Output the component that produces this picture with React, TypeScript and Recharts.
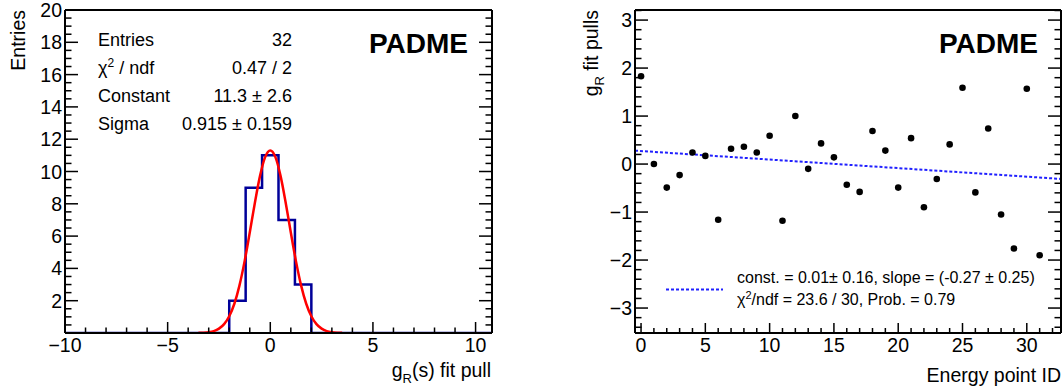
import { ComposedChart, Line, Scatter, XAxis, YAxis } from 'recharts';

const FONT = '"Liberation Sans", Arial, Helvetica, sans-serif';

// ---- left panel: pull histogram + gaussian fit ----
const HIST_EDGES = [-10, -2, -1.2, -0.4, 0.4, 1.2, 2.0, 10.8];
const HIST_COUNTS = [0, 2, 9, 11, 7, 3, 0, 0];

const GAUSS_X = [-3.5, -3.25, -3, -2.75, -2.5, -2.25, -2, -1.75, -1.5, -1.25, -1, -0.75, -0.5, -0.25, 0,
  0.25, 0.5, 0.75, 1, 1.25, 1.5, 1.75, 2, 2.25, 2.5, 2.75, 3, 3.25, 3.5];
const GAUSS_Y = [0.01, 0.02, 0.05, 0.12, 0.27, 0.55, 1.04, 1.81, 2.95, 4.45, 6.22, 8.07, 9.73, 10.89, 11.3,
  10.89, 9.73, 8.07, 6.22, 4.45, 2.95, 1.81, 1.04, 0.55, 0.27, 0.12, 0.05, 0.02, 0.01];

const LEFT_X_LABELS = [-10, -5, 0, 5, 10];
const LEFT_Y_LABELS = [2, 4, 6, 8, 10, 12, 14, 16, 18, 20];

const STATS = [
  ['Entries', '32'],
  ['chi2', '0.47 / 2'],
  ['Constant', '11.3 \u00b1 2.6'],
  ['Sigma', '0.915 \u00b1 0.159'],
];

// ---- right panel: pulls per energy point ----
const PULLS = [1.83, 0.0, -0.49, -0.23, 0.24, 0.17, -1.16, 0.32, 0.36, 0.24, 0.59, -1.18, 1.0, -0.1, 0.43, 0.14,
  -0.43, -0.58, 0.69, 0.28, -0.49, 0.54, -0.9, -0.31, 0.41, 1.59, -0.59, 0.74, -1.05, -1.76, 1.57, -1.9];
const FIT_X = [-0.47, 32.66];
const FIT_Y = [0.28, -0.31];

const RIGHT_X_LABELS = [0, 5, 10, 15, 20, 25, 30];
const RIGHT_Y_LABELS = [-3, -2, -1, 0, 1, 2, 3];

const histData = HIST_EDGES.map((x, i) => ({ x, y: HIST_COUNTS[i] }));
const gaussData = GAUSS_X.map((x, i) => ({ x, y: GAUSS_Y[i] }));
const pullData = PULLS.map((y, i) => ({ x: i, y }));
const fitData = FIT_X.map((x, i) => ({ x, y: FIT_Y[i] }));

function range(from: number, to: number, step: number) {
  const out: number[] = [];
  for (let v = from; v <= to + 1e-9; v += step) out.push(Math.round(v * 1000) / 1000);
  return out;
}

const fmt = (v: number) => (v < 0 ? '\u2212' + Math.abs(v) : String(v));

// ROOT style ticks: drawn inside the frame
function axisTick(side: string, labels: number[], majorStep: number, majorLen: number, minorLen: number) {
  return (props: any) => {
    const { x, y, payload } = props;
    const v = payload.value;
    const r = v / majorStep;
    const major = Math.abs(r - Math.round(r)) < 1e-6;
    const len = major ? majorLen : minorLen;
    const lab = labels.some((l) => Math.abs(l - v) < 1e-6);
    let line;
    if (side === 'bottom') line = <line x1={x} y1={y} x2={x} y2={y - len} stroke="#000" strokeWidth={1.5} />;
    else if (side === 'top') line = <line x1={x} y1={y} x2={x} y2={y + len} stroke="#000" strokeWidth={1.5} />;
    else if (side === 'left') line = <line x1={x} y1={y} x2={x + len} y2={y} stroke="#000" strokeWidth={1.5} />;
    else line = <line x1={x} y1={y} x2={x - len} y2={y} stroke="#000" strokeWidth={1.5} />;
    return (
      <g>
        {line}
        {lab && side === 'bottom' && (
          <text x={x} y={y + 19} textAnchor="middle" fontSize={19.5} fontFamily={FONT} fill="#000">{fmt(v)}</text>
        )}
        {lab && side === 'left' && (
          <text x={x - 3} y={y + 7} textAnchor="end" fontSize={19.5} fontFamily={FONT} fill="#000">{fmt(v)}</text>
        )}
      </g>
    );
  };
}

const axisLine = { stroke: '#000', strokeWidth: 2 };

function LeftPanel() {
  const xd: [number, number] = [-10, 10.8];
  const yd: [number, number] = [0, 20];
  const xt = range(-10, 10, 1);
  const yt = range(0, 20, 0.5);
  return (
    <ComposedChart width={531} height={390} margin={{ top: 9, right: 38, bottom: 56, left: 64 }}>
      <XAxis xAxisId="b" dataKey="x" type="number" domain={xd} allowDataOverflow ticks={xt} interval={0}
        height={1} tickSize={0} tickMargin={0} tickLine={false} axisLine={axisLine}
        tick={axisTick('bottom', LEFT_X_LABELS, 5, 11, 5.5)} />
      <XAxis xAxisId="t" orientation="top" type="number" domain={xd} allowDataOverflow ticks={xt} interval={0}
        height={1} tickSize={0} tickMargin={0} tickLine={false} axisLine={axisLine}
        tick={axisTick('top', [], 5, 10, 5.5)} />
      <YAxis yAxisId="l" type="number" domain={yd} allowDataOverflow ticks={yt} interval={0}
        width={1} tickSize={0} tickMargin={0} tickLine={false} axisLine={axisLine}
        tick={axisTick('left', LEFT_Y_LABELS, 2, 13, 6.5)} />
      <YAxis yAxisId="r" orientation="right" type="number" domain={yd} allowDataOverflow ticks={yt} interval={0}
        width={1} tickSize={0} tickMargin={0} tickLine={false} axisLine={axisLine}
        tick={axisTick('right', [], 2, 13, 6.5)} />
      <Line xAxisId="b" yAxisId="l" data={histData} dataKey="y" type="stepAfter" stroke="#000099"
        strokeWidth={2.5} dot={false} activeDot={false} isAnimationActive={false} />
      <Line xAxisId="b" yAxisId="l" data={gaussData} dataKey="y" type="monotone" stroke="#ff0000"
        strokeWidth={2.5} dot={false} activeDot={false} isAnimationActive={false} />
    </ComposedChart>
  );
}

function RightPanel() {
  const xd: [number, number] = [-0.47, 32.66];
  const yd: [number, number] = [-3.52, 3.21];
  const xt = range(0, 32, 1);
  const yt = range(-3.4, 3.2, 0.2);
  return (
    <ComposedChart width={532} height={390} margin={{ top: 9, right: 1, bottom: 56, left: 103 }}>
      <XAxis xAxisId="b" dataKey="x" type="number" domain={xd} allowDataOverflow ticks={xt} interval={0}
        height={1} tickSize={0} tickMargin={0} tickLine={false} axisLine={axisLine}
        tick={axisTick('bottom', RIGHT_X_LABELS, 5, 10, 5)} />
      <XAxis xAxisId="t" orientation="top" type="number" domain={xd} allowDataOverflow ticks={xt} interval={0}
        height={1} tickSize={0} tickMargin={0} tickLine={false} axisLine={axisLine}
        tick={axisTick('top', [], 5, 10, 5)} />
      <YAxis yAxisId="l" type="number" domain={yd} allowDataOverflow ticks={yt} interval={0}
        width={1} tickSize={0} tickMargin={0} tickLine={false} axisLine={axisLine}
        tick={axisTick('left', RIGHT_Y_LABELS, 1, 13, 6.5)} />
      <YAxis yAxisId="r" orientation="right" type="number" domain={yd} allowDataOverflow ticks={yt} interval={0}
        width={1} tickSize={0} tickMargin={0} tickLine={false} axisLine={axisLine}
        tick={axisTick('right', [], 1, 13, 6.5)} />
      <Line xAxisId="b" yAxisId="l" data={fitData} dataKey="y" type="linear" stroke="#2020ff"
        strokeWidth={2} strokeDasharray="3 2" dot={false} activeDot={false} isAnimationActive={false} />
      <Scatter xAxisId="b" yAxisId="l" data={pullData} dataKey="y" isAnimationActive={false}
        shape={(p: any) => <circle cx={p.cx} cy={p.cy} r={3.3} fill="#000" />} />
    </ComposedChart>
  );
}

function Texts() {
  const t = { fontFamily: FONT, fill: '#000' } as const;
  const rowY = [46, 74, 102, 130];
  return (
    <svg width={1063} height={390} style={{ position: 'absolute', left: 0, top: 0, pointerEvents: 'none' }}>
      {/* left panel */}
      <text x={24.5} y={10} transform="rotate(-90 24.5 10)" textAnchor="end" fontSize={19.5} {...t}>Entries</text>
      {STATS.map(([k, v], i) => (
        <g key={k}>
          <text x={98} y={rowY[i]} fontSize={18} {...t}>
            {k === 'chi2' ? (
              <>
                {'\u03c7'}
                <tspan dy={-7} fontSize={12}>2</tspan>
                <tspan dy={7}> / ndf</tspan>
              </>
            ) : k}
          </text>
          <text x={292} y={rowY[i]} fontSize={18} textAnchor="end" {...t}>{v}</text>
        </g>
      ))}
      <text x={468} y={53} textAnchor="end" fontSize={28} fontWeight="bold" {...t}>PADME</text>
      <text x={491} y={377} textAnchor="end" fontSize={19.5} {...t}>
        g<tspan dy={6} fontSize={13}>R</tspan><tspan dy={-6}>(s) fit pull</tspan>
      </text>

      {/* right panel */}
      <text x={598} y={10} transform="rotate(-90 598 10)" textAnchor="end" fontSize={19.5} {...t}>
        g<tspan dy={6} fontSize={13}>R</tspan><tspan dy={-6}> fit pulls</tspan>
      </text>
      <text x={1038} y={53} textAnchor="end" fontSize={28} fontWeight="bold" {...t}>PADME</text>
      <line x1={666} y1={289.5} x2={723} y2={289.5} stroke="#2020ff" strokeWidth={2} strokeDasharray="3 2" />
      <text x={737} y={283} fontSize={16} {...t}>const. = 0.01{'\u00b1'} 0.16, slope = (-0.27 {'\u00b1'} 0.25)</text>
      <text x={737} y={304.5} fontSize={16} {...t}>
        {'\u03c7'}<tspan dy={-6} fontSize={11}>2</tspan><tspan dy={6}>/ndf = 23.6 / 30, Prob. = 0.79</tspan>
      </text>
      <text x={1061} y={382} textAnchor="end" fontSize={19.5} {...t}>Energy point ID</text>
    </svg>
  );
}

export default function App() {
  return (
    <div style={{ position: 'absolute', left: 0, top: 0, width: 1063, height: 390, background: '#fff' }}>
      <div style={{ position: 'absolute', left: 0, top: 0 }}>
        <LeftPanel />
      </div>
      <div style={{ position: 'absolute', left: 531, top: 0 }}>
        <RightPanel />
      </div>
      <Texts />
    </div>
  );
}
